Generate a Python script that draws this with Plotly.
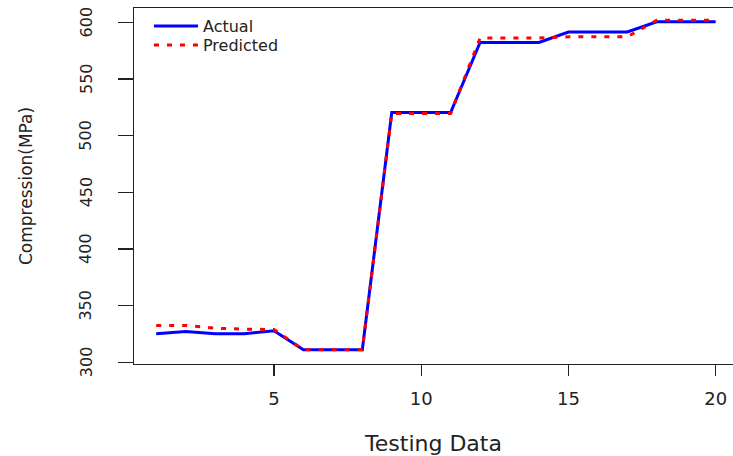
import plotly.graph_objects as go

testing_index = list(range(1, 21))
actual = [325.1, 327.2, 325.1, 325.1, 327.7, 310.9, 310.9, 310.9, 520.4, 520.4,
          520.4, 582.3, 582.3, 582.3, 591.5, 591.5, 591.5, 600.6, 600.6, 600.6]
predicted = [332.5, 332.5, 330.0, 329.1, 328.9, 310.9, 310.9, 310.9, 519.5, 519.5,
             519.5, 586.2, 586.2, 586.2, 587.3, 587.3, 587.3, 601.8, 601.8, 601.8]
x_ticks = [5, 10, 15, 20]
y_ticks = [300, 350, 400, 450, 500, 550, 600]

FONT = "DejaVu Sans"
TXT = "#222222"

fig = go.Figure()
fig.add_trace(go.Scatter(x=testing_index, y=actual, mode="lines", name="Actual",
                         line=dict(color="#0000FF", width=3), legend="legend"))
fig.add_trace(go.Scatter(x=testing_index, y=predicted, mode="lines", name="Predicted",
                         line=dict(color="#FF0000", width=3, dash="5px,8px"), legend="legend2"))

legend_common = dict(x=0.025, xanchor="left", yanchor="top",
                     bgcolor="rgba(0,0,0,0)", borderwidth=0, itemwidth=44,
                     font=dict(size=16, family=FONT, color=TXT))

annotations = [
    dict(x=-0.0801, y=v, xref="paper", yref="y", text=str(v), showarrow=False,
         textangle=-90, xanchor="center", yanchor="middle",
         font=dict(size=16, family=FONT, color=TXT))
    for v in y_ticks
]
annotations.append(dict(x=-0.1803, y=0.5, xref="paper", yref="paper",
                        text="Compression(MPa)", showarrow=False, textangle=-90,
                        xanchor="center", yanchor="middle",
                        font=dict(size=17, family=FONT, color=TXT)))

fig.update_layout(
    width=733, height=456,
    margin=dict(l=134, r=0, t=8, b=92, autoexpand=False),
    paper_bgcolor="white", plot_bgcolor="white",
    font=dict(family=FONT, color=TXT),
    showlegend=True,
    legend=dict(y=0.997, **legend_common),
    legend2=dict(y=0.9438, **legend_common),
    annotations=annotations,
    xaxis=dict(range=[0.246, 20.59], tickvals=x_ticks, ticktext=[str(v) for v in x_ticks],
               showgrid=False, zeroline=False, showline=True, mirror=True, automargin=False,
               linecolor=TXT, linewidth=1.3,
               ticks="outside", ticklen=11, tickwidth=1.3, tickcolor=TXT,
               tickfont=dict(size=18, family=FONT), ticklabelstandoff=7,
               title=dict(text="Testing Data", font=dict(size=22, family=FONT), standoff=27)),
    yaxis=dict(range=[298.4, 612.7], tickvals=y_ticks,
               showticklabels=False, automargin=False,
               showgrid=False, zeroline=False, showline=True, mirror=False,
               linecolor=TXT, linewidth=1.3,
               ticks="outside", ticklen=15, tickwidth=1.3, tickcolor=TXT),
)

fig.write_html(
    "out.html",
    config={"displayModeBar": False, "staticPlot": True},
    post_script="document.body.style.margin='0';document.body.style.overflow='hidden';",
)
